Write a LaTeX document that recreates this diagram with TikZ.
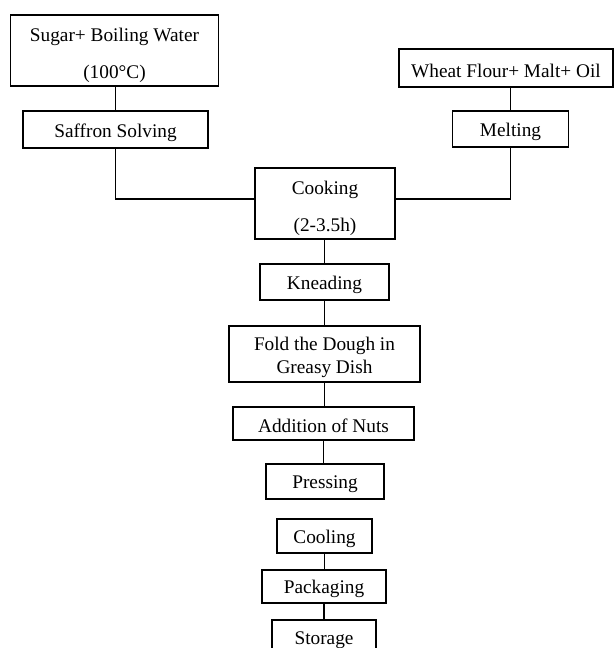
\documentclass[tikz,border=0pt]{standalone}
\usepackage{fontspec}
\setmainfont{Liberation Serif}
\begin{document}
\begin{tikzpicture}[x=1pt,y=-1pt,
  box/.style={draw, line width=1.8pt, inner sep=0pt},
  txt/.style={inner sep=0pt, align=center, font=\fontsize{19.3}{23}\selectfont},
  link/.style={line width=1.8pt}]
\useasboundingbox (0,0) rectangle (614,648);
\clip (0,0) rectangle (614,648);
\node[box, minimum width=208pt, minimum height=71pt] (sugar) at (114.5,50.5) {};
\node[txt] (sugart) at ([yshift=-4.5pt]sugar.center) {Sugar+ Boiling Water\\[14pt](100°C)};
\node[box, minimum width=185pt, minimum height=37pt] (saffron) at (115.5,129.5) {};
\node[txt] (saffront) at ([yshift=-3pt]saffron.center) {Saffron Solving};
\node[box, minimum width=214pt, minimum height=38pt] (wheat) at (506,68) {};
\node[txt] (wheatt) at ([yshift=-3pt]wheat.center) {Wheat Flour+ Malt+ Oil};
\node[box, minimum width=116pt, minimum height=36pt] (melting) at (510.5,129) {};
\node[txt] (meltingt) at ([yshift=-3pt]melting.center) {Melting};
\node[box, minimum width=140pt, minimum height=71pt] (cooking) at (325,203.5) {};
\node[txt] (cookingt) at ([yshift=-4.5pt]cooking.center) {Cooking\\[14pt](2-3.5h)};
\node[box, minimum width=129pt, minimum height=36pt] (knead) at (324.5,282) {};
\node[txt] (kneadt) at ([yshift=-3pt]knead.center) {Kneading};
\node[box, minimum width=191pt, minimum height=56pt] (fold) at (324.5,354) {};
\node[txt] (foldt) at ([yshift=-3pt]fold.center) {Fold the Dough in\\Greasy Dish};
\node[box, minimum width=181pt, minimum height=33pt] (nuts) at (323.5,423.5) {};
\node[txt] (nutst) at ([yshift=-2pt]nuts.center) {Addition of Nuts};
\node[box, minimum width=118pt, minimum height=35pt] (press) at (325,481.5) {};
\node[txt] (presst) at ([yshift=-3pt]press.center) {Pressing};
\node[box, minimum width=95pt, minimum height=34pt] (cool) at (324.5,536) {};
\node[txt] (coolt) at ([yshift=-2.5pt]cool.center) {Cooling};
\node[box, minimum width=124pt, minimum height=33pt] (pack) at (324,586.5) {};
\node[txt] (packt) at ([yshift=-2.5pt]pack.center) {Packaging};
\node[box, minimum width=104pt, minimum height=36pt] (store) at (324,638) {};
\node[txt] (storet) at ([yshift=-2pt]store.center) {Storage};
\draw[link] (saffron.north) -- (saffron.north |- sugar.south);
\draw[link] (melting.north) -- (melting.north |- wheat.south);
\draw[link] (saffron.south) |- ([yshift=4.5pt]cooking.west);
\draw[link] (melting.south) |- ([yshift=4.5pt]cooking.east);
\draw[link] (knead.north) -- (knead.north |- cooking.south);
\draw[link] (knead.south) -- (knead.south |- fold.north);
\draw[link] (fold.south) -- (fold.south |- nuts.north);
\draw[link] (nuts.south) -- (nuts.south |- press.north);
\draw[link] (cool.south) -- (cool.south |- pack.north);
\draw[link] (pack.south) -- (pack.south |- store.north);
\end{tikzpicture}
\end{document}
